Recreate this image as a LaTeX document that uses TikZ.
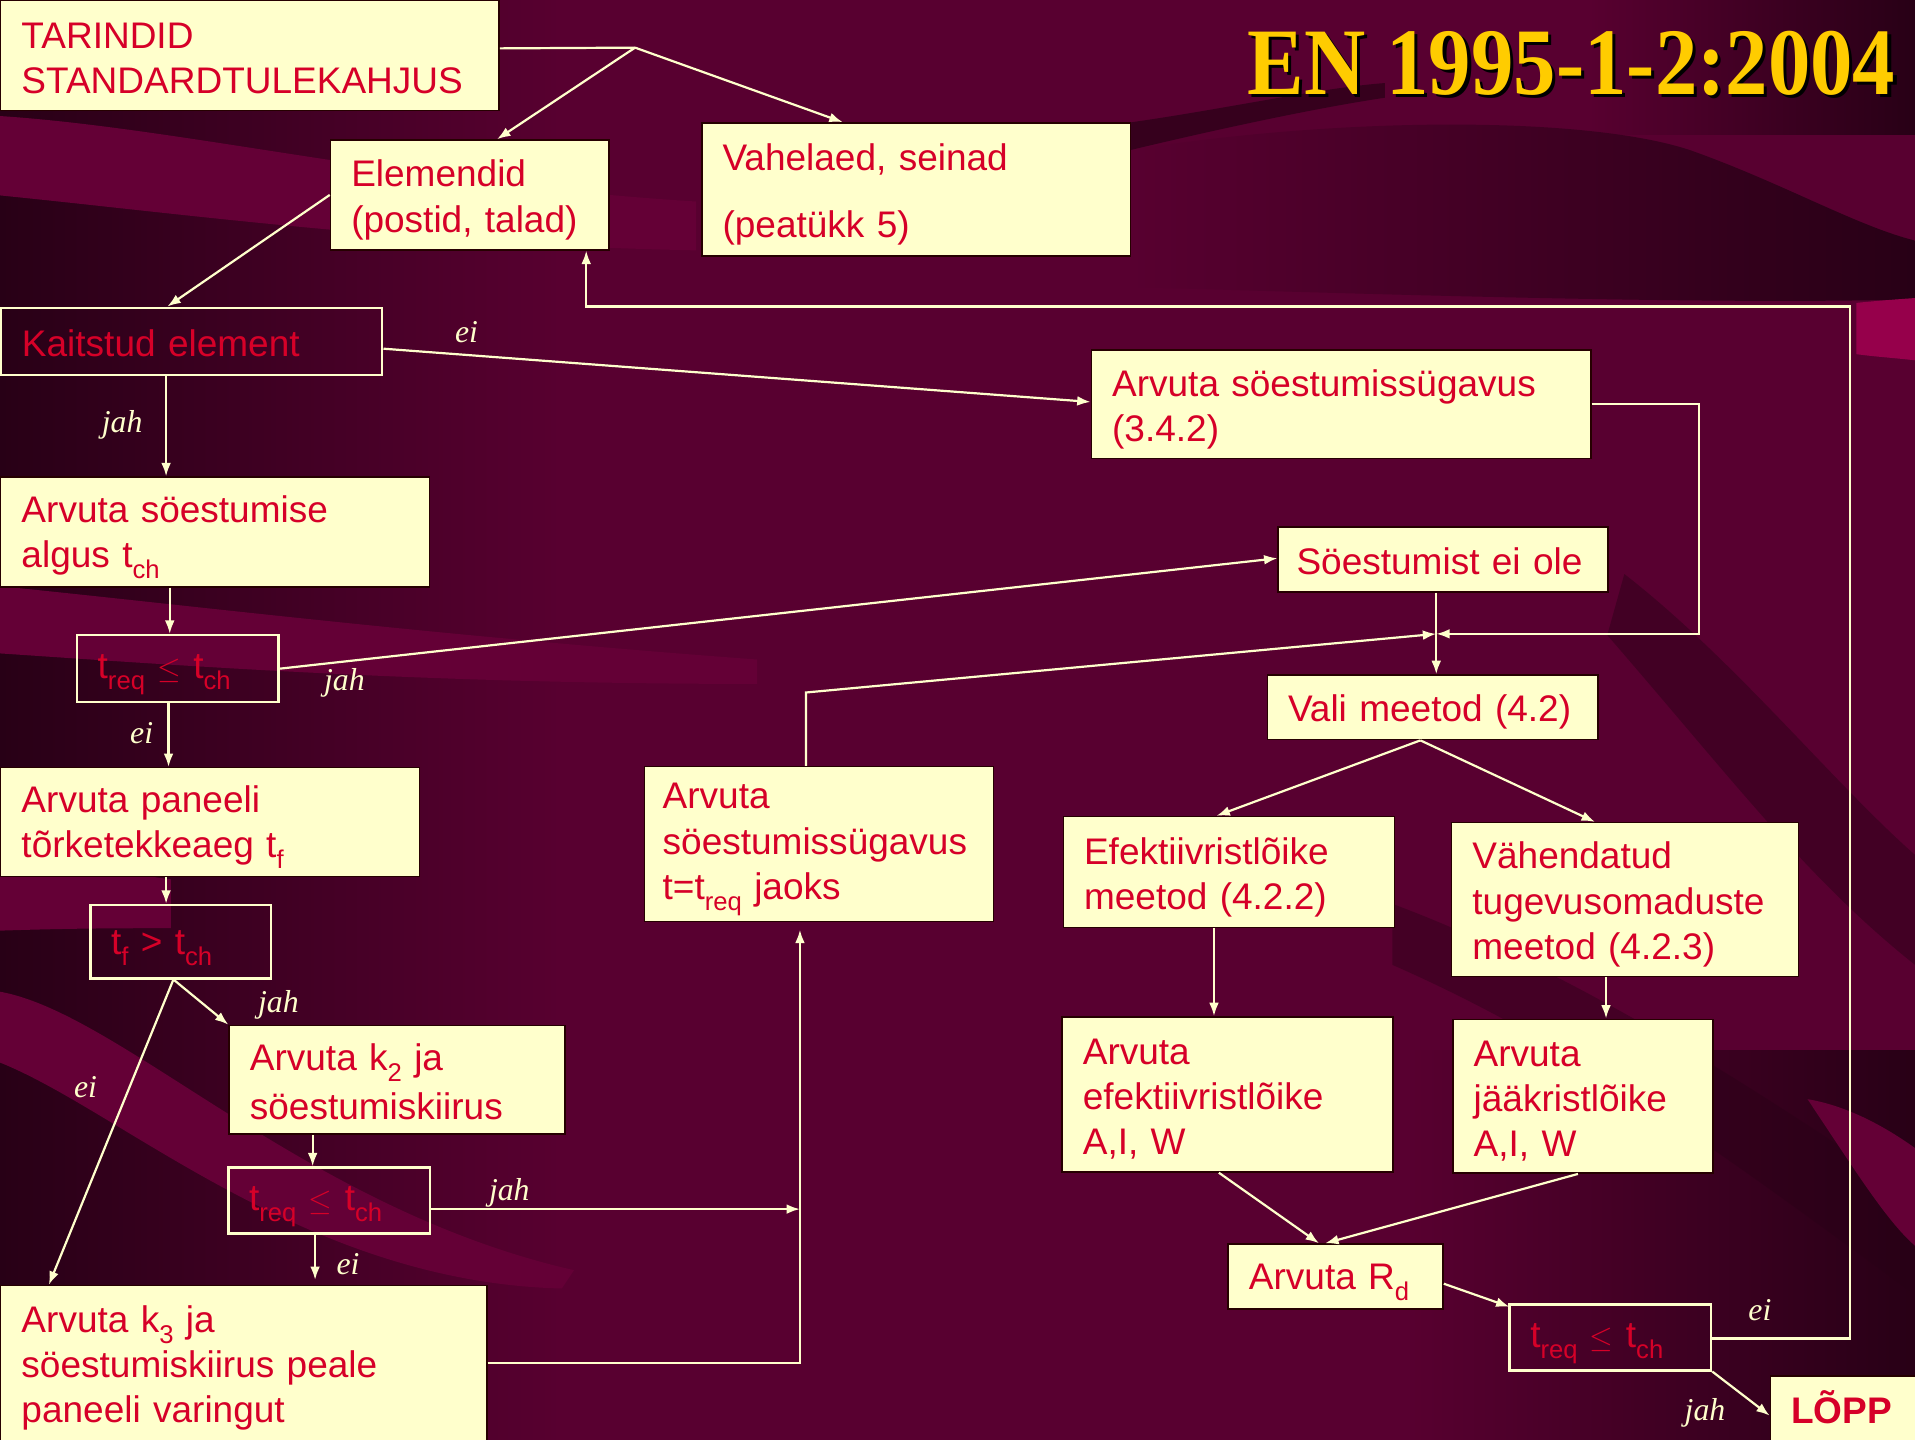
\documentclass[tikz,border=0pt]{standalone}
\usepackage{fontspec}
\setmainfont{Liberation Sans}
\newfontfamily\labfont{Liberation Serif}
\newfontfamily\titlefont{Liberation Serif}
\usetikzlibrary{arrows.meta,calc}
\hyphenpenalty=10000
\definecolor{bgbase}{RGB}{88,0,48}
\definecolor{bgdark}{RGB}{40,0,22}
\definecolor{bglight}{RGB}{100,0,54}
\definecolor{bgpink}{RGB}{150,0,75}
\definecolor{boxy}{RGB}{255,255,204}
\definecolor{txtred}{RGB}{214,0,40}
\definecolor{lin}{RGB}{255,255,204}
\definecolor{titley}{RGB}{255,204,0}
\newcommand\sbs[1]{\raisebox{-0.3em}{\fontsize{21}{21}\selectfont #1}}
\newcommand\ttl[1]{\makebox[0pt][l]{\hspace{3pt}\raisebox{-3pt}{\color{black}#1}}#1}
\newcommand\stt{\rule[-5pt]{0pt}{35pt}}
\begin{document}
\begin{tikzpicture}[x=1pt,y=-1pt,
  ybox/.style={draw=black!85!red, line width=1.2pt, fill=boxy, text=txtred,
    font=\fontsize{30.3}{37}\selectfont, align=left, anchor=north west,
    inner xsep=17pt, inner ysep=0pt,
    execute at begin node=\stt, execute at end node=\stt},
  obox/.style={draw=lin, line width=2pt, text=txtred,
    font=\fontsize{30.3}{37}\selectfont, align=left, anchor=north west,
    inner xsep=17pt, inner ysep=0pt,
    execute at begin node=\stt, execute at end node=\stt},
  conn/.style={draw=lin, line width=1.8pt},
  arr/.style={conn, -{Latex[length=11pt,width=8pt]}},
  lab/.style={text=lin, font=\labfont\itshape\fontsize{26}{26}\selectfont, inner sep=0pt}]
% ---------- background ----------
\useasboundingbox (0,0) rectangle (1568,1179);
\fill[bgbase] (0,0) rectangle (1568,1179);
\shade[left color=bgdark, right color=bgbase] (0,0) rectangle (460,1179);
\shade[left color=bgbase, right color=bgdark] (1150,860) rectangle (1568,1179);
\shade[left color=bgbase, right color=bgdark] (1300,0) rectangle (1568,110);
% top left light band
\fill[bglight] (0,95) .. controls (150,105) and (330,150) .. (570,165)
  -- (570,205) .. controls (330,200) and (150,175) .. (0,160) -- cycle;
% top right dark wedge
\shade[left color=bgbase, right color=bgdark]
  (925,123) .. controls (1100,95) and (1300,95) .. (1384,123)
  .. controls (1460,150) and (1520,185) .. (1568,197) -- (1568,245)
  .. controls (1400,250) and (1100,240) .. (925,235) -- cycle;
\fill[bgdark, opacity=0.7] (920,101) .. controls (1000,90) and (1080,72) .. (1134,68)
  -- (1134,80) .. controls (1080,88) and (1000,105) .. (925,123) -- cycle;
\fill[bgpink] (1520,248) .. controls (1540,246) and (1555,245) .. (1568,244)
  -- (1568,295) .. controls (1550,293) and (1535,292) .. (1520,290) -- cycle;
% left light bands
\fill[bglight] (0,480) .. controls (150,495) and (350,520) .. (620,540)
  -- (620,560) .. controls (350,560) and (150,545) .. (0,535) -- cycle;
\fill[bglight] (0,700) .. controls (60,705) and (100,715) .. (140,720)
  -- (140,760) .. controls (100,760) and (60,760) .. (0,762) -- cycle;
\fill[bglight] (0,812) .. controls (100,830) and (250,990) .. (470,1040)
  -- (460,1055) .. controls (250,1050) and (100,910) .. (0,870) -- cycle;
% right diagonal dark bands
\fill[bgdark, opacity=0.45] (1330,470) .. controls (1420,540) and (1500,640) .. (1568,700)
  -- (1568,790) .. controls (1480,720) and (1420,640) .. (1316,520) -- cycle;
\fill[bgdark, opacity=0.4] (1140,740) .. controls (1300,800) and (1450,900) .. (1568,980)
  -- (1568,1060) .. controls (1430,960) and (1300,860) .. (1140,790) -- cycle;
\fill[bglight] (1480,900) .. controls (1520,960) and (1545,1000) .. (1568,1020)
  -- (1568,940) .. controls (1540,920) and (1510,905) .. (1480,900) -- cycle;
% ---------- title ----------
\node[anchor=base east, text=titley, inner sep=0pt,
  font=\titlefont\bfseries\fontsize{78}{78}\selectfont] (title) at (1552,77)
  {\scalebox{0.89}[1]{\ttl{EN 1995-1-2:2004}}};
% ---------- nodes ----------
\node[ybox, minimum height=90pt, text width=374pt] (tar) at (0,0) {TARINDID\\STANDARDTULEKAHJUS};
\node[ybox, minimum height=90pt, text width=194pt] (elem) at (270,114) {Elemendid\\(postid, talad)};
\node[ybox, minimum height=109pt, text width=317pt] (vah) at (574,100) {Vahelaed, seinad\\[18pt](peatükk 5)};
\node[obox, minimum height=55pt, text width=278pt] (kait) at (0,251) {Kaitstud element};
\node[ybox, minimum height=90pt, text width=317pt] (alg) at (0,390) {Arvuta söestumise\\algus t\sbs{ch}};
\node[obox, minimum height=55pt, text width=131pt] (c1) at (62,519) {t\sbs{req} $\leq$ t\sbs{ch}};
\node[ybox, minimum height=89pt, text width=309pt] (pan) at (0,628) {Arvuta paneeli\\tõrketekkeaeg t\sbs{f}};
\node[obox, minimum height=60pt, text width=114pt] (c2) at (73,740) {t\sbs{f} > t\sbs{ch}};
\node[ybox, minimum height=89pt, text width=241pt] (k2) at (187,839) {Arvuta k\sbs{2} ja\\söestumiskiirus};
\node[obox, minimum height=54pt, text width=131pt] (c3) at (186,955) {t\sbs{req} $\leq$ t\sbs{ch}};
\node[ybox, minimum height=127pt, text width=364pt] (k3) at (0,1052) {Arvuta k\sbs{3} ja\\söestumiskiirus peale\\paneeli varingut};
\node[ybox, minimum height=127pt, text width=256pt, inner xsep=15pt] (sd) at (527,627) {Arvuta\\söestumissügavus\\t=t\sbs{req} jaoks};
\node[ybox, minimum height=89pt, text width=375pt] (s342) at (893,286) {Arvuta söestumissügavus\\(3.4.2)};
\node[ybox, minimum height=53pt, text width=240pt, inner xsep=15pt] (sei) at (1046,431) {Söestumist ei ole};
\node[ybox, minimum height=53pt, text width=237pt] (vali) at (1037,552) {Vali meetod (4.2)};
\node[ybox, minimum height=91pt, text width=237pt] (ef) at (870,668) {Efektiivristlõike\\meetod (4.2.2)};
\node[ybox, minimum height=126pt, text width=250pt] (vah2) at (1188,673) {Vähendatud\\tugevusomaduste\\meetod (4.2.3)};
\node[ybox, minimum height=127pt, text width=237pt] (aef) at (869,832) {Arvuta\\efektiivristlõike\\A,I, W};
\node[ybox, minimum height=126pt, text width=179pt] (ajk) at (1189,834) {Arvuta\\jääkristlõike\\A,I, W};
\node[ybox, minimum height=53pt, text width=142pt] (rd) at (1005,1018) {Arvuta R\sbs{d}};
\node[obox, minimum height=54pt, text width=131pt] (c4) at (1235,1067) {t\sbs{req} $\leq$ t\sbs{ch}};
\node[ybox, minimum height=53pt, text width=110pt, font=\bfseries\fontsize{30.3}{37}\selectfont] (lopp) at (1449,1126) {LÕPP};
% ---------- connectors ----------
\coordinate (j1) at (520,39);
\draw[conn] ([yshift=6pt]tar.east) -- (j1);
\draw[arr] (j1) -- ([xshift=137pt]elem.north west);
\draw[arr] (j1) -- ([xshift=116pt]vah.north west);
\draw[arr] (elem.west) -- ([xshift=137pt]kait.north west);
% loop back
\coordinate (lp) at (1515,251);
\coordinate (elb) at ([xshift=210pt]elem.south west);
\draw[arr] ([yshift=-1pt]c4.east) -| (lp) -- (elb |- lp) -- (elb);
\draw[arr] ([yshift=-6pt]kait.east) -- ([yshift=2pt]s342.west);
\draw[arr] ([xshift=136pt]kait.south west) -- ([xshift=136pt]alg.north west);
\draw[arr] ([xshift=139pt]alg.south west) -- ([xshift=77pt]c1.north west);
\draw[arr] (c1.east) -- ([yshift=1pt]sei.west);
\draw[arr] ([xshift=76pt]c1.south west) -- ([xshift=138pt]pan.north west);
\draw[arr] ([xshift=136pt]pan.south west) -- ([xshift=63pt]c2.north west);
\draw[arr] ([xshift=69pt]c2.south west) -- (k2.north west);
\draw[arr] ([xshift=69pt]c2.south west) -- ([xshift=40pt]k3.north west);
\draw[arr] ([xshift=69pt]k2.south west) -- ([xshift=70pt]c3.north west);
\coordinate (sdb) at ([xshift=128pt,yshift=-6pt]sd.south west);
\draw[arr] ([yshift=-7pt]c3.east) -- ([yshift=-7pt]c3.east -| sdb);
\draw[arr] ([xshift=72pt]c3.south west) -- ([xshift=258pt,yshift=4pt]k3.north west);
\draw[arr] (k3.east) -| (sdb);
\coordinate (jn) at (1176,519);
\draw[arr] ([xshift=133pt]sd.north west) -- ++(0,-60) -- (jn);
\draw[arr] (s342.east) -- ++(88,0) |- (jn);
\draw[arr] ([xshift=130pt]sei.south west) -- ([xshift=139pt]vali.north west);
\draw[arr] ([xshift=126pt]vali.south west) -- ([xshift=126pt]ef.north west);
\draw[arr] ([xshift=126pt]vali.south west) -- ([xshift=118pt]vah2.north west);
\draw[arr] ([xshift=124pt]ef.south west) -- ([xshift=125pt]aef.north west);
\draw[arr] ([xshift=127pt]vah2.south west) -- ([xshift=126pt]ajk.north west);
\draw[arr] ([xshift=129pt]aef.south west) -- ([xshift=75pt]rd.north west);
\draw[arr] ([xshift=103pt]ajk.south west) -- ([xshift=80pt]rd.north west);
\draw[arr] ([yshift=-6pt]rd.east) -- ([xshift=1pt,yshift=-3pt]c4.north west);
\draw[arr] (c4.south east) -- ([yshift=-6pt]lopp.west);
% ---------- labels ----------
\node[lab] (l1) at (382,272) {ei};
\node[lab] (l2) at (100,348) {jah};
\node[lab] (l3) at (282,559) {jah};
\node[lab] (l4) at (116,600) {ei};
\node[lab] (l5) at (228,823) {jah};
\node[lab] (l6) at (70,890) {ei};
\node[lab] (l7) at (417,977) {jah};
\node[lab] (l8) at (285,1035) {ei};
\node[lab] (l9) at (1441,1073) {ei};
\node[lab] (l10) at (1396,1157) {jah};
\end{tikzpicture}
\end{document}
